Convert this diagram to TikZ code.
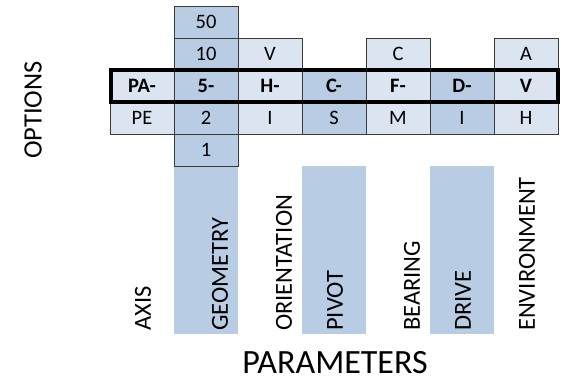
\documentclass[tikz,border=0pt]{standalone}
\usepackage{fontspec}
\setmainfont{Carlito}
\definecolor{dk}{HTML}{B8CCE4}
\definecolor{lt}{HTML}{DBE5F1}
\definecolor{ln}{HTML}{3A3A3A}
\tikzset{
  cell/.style={draw=ln, line width=0.9pt, minimum width=64pt, minimum height=32pt, inner sep=0pt, font=\fontsize{20.5}{20.5}\selectfont},
  dcell/.style={cell, fill=dk},
  lcell/.style={cell, fill=lt},
  bar/.style={fill=dk, minimum width=64pt, minimum height=168pt, inner sep=0pt},
  lab/.style={rotate=90, anchor=west, inner sep=0pt, font=\fontsize{24.5}{24.5}\selectfont},
  mainbox/.style={draw=black, line width=3.5pt, minimum width=447pt, minimum height=32pt, inner sep=0pt}
}
\begin{document}
\begin{tikzpicture}[x=1pt,y=-1pt]
\useasboundingbox (0,0) rectangle (564,379);
% bars
\node[bar] (bgeo) at (206,250) {};
\node[bar] (bpiv) at (334,250) {};
\node[bar] (bdrv) at (462,250) {};
% row 0
\node[dcell] (c50) at (206,22) {50};
% row 1
\node[dcell] (c10) at (206,54) {10};
\node[lcell] (cV1) at (270,54) {V};
\node[lcell] (cC1) at (398,54) {C};
\node[lcell] (cA1) at (526,54) {A};
% row 2 (main)
\node[lcell] (cPA) at (142,86) {\bfseries PA-};
\node[dcell] (c5) at (206,86) {\bfseries 5-};
\node[lcell] (cH) at (270,86) {\bfseries H-};
\node[dcell] (cC) at (334,86) {\bfseries C-};
\node[lcell] (cF) at (398,86) {\bfseries F-};
\node[dcell] (cD) at (462,86) {\bfseries D-};
\node[lcell] (cV) at (526,86) {\bfseries V};
% row 3
\node[lcell] (cPE) at (142,118) {PE};
\node[dcell] (c2) at (206,118) {2};
\node[lcell] (cI1) at (270,118) {I};
\node[dcell] (cS) at (334,118) {S};
\node[lcell] (cM) at (398,118) {M};
\node[dcell] (cI2) at (462,118) {I};
\node[lcell] (cHh) at (526,118) {H};
% row 4
\node[dcell] (c1) at (206,150) {1};
% main row frame
\node[mainbox] (main) at (334.5,86) {};
% labels
\node[lab] (laxis) at (143,331) {AXIS};
\node[lab] (lgeo) at (220,331) {GEOMETRY};
\node[lab] (lori) at (284,331) {ORIENTATION};
\node[lab] (lpiv) at (335,331) {PIVOT};
\node[lab] (lbea) at (412,331) {BEARING};
\node[lab] (ldrv) at (463,331) {DRIVE};
\node[lab] (lenv) at (527,331) {ENVIRONMENT};
\node[font=\fontsize{34}{34}\selectfont, inner sep=0pt] (params) at (335,363) {PARAMETERS};
\node[rotate=90, font=\fontsize{26.5}{26.5}\selectfont, inner sep=0pt] (opts) at (33,110) {OPTIONS};
\end{tikzpicture}
\end{document}
